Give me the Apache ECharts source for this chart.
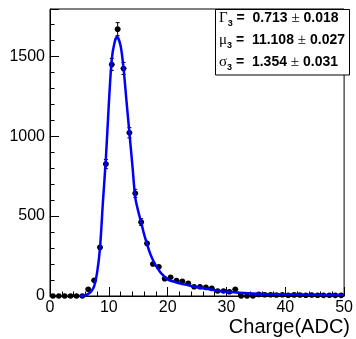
<!DOCTYPE html>
<html>
<head>
<meta charset="utf-8">
<script src="https://cdn.jsdelivr.net/npm/echarts@6/dist/echarts.min.js"></script>
<style>
html,body{margin:0;padding:0;background:#fff;}
#c{width:356px;height:339px;}
</style>
</head>
<body>
<div id="c"></div>
<script>
// Histogram bin centres and counts (bin width 1)
const binCenters = [0.5,1.5,2.5,3.5,4.5,5.5,6.5,7.5,8.5,9.5,10.5,11.5,12.5,13.5,14.5,15.5,16.5,17.5,18.5,19.5,20.5,21.5,22.5,23.5,24.5,25.5,26.5,27.5,28.5,29.5,30.5,31.5,32.5,33.5,34.5,35.5,36.5,37.5,38.5,39.5,40.5,41.5,42.5,43.5,44.5,45.5,46.5,47.5,48.5,49.5];
const counts = [0,0,0,0,0,0,42,98,304,825,1448,1669,1423,1021,642,462,329,200,183,108,117,97,92,79,58,58,54,48,31,31,27,42,0,0,0,10,8,8,6,8,5,7,6,5,6,5,4,5,4,4];
// Fitted curve
const fitX = [5,5.5,6,6.5,7,7.5,8,8.5,9,9.5,10,10.5,11,11.4,12,12.5,13,13.5,14,14.5,15,15.5,16,16.5,17,17.5,18,18.5,19,20,21,22,23,24,25,26,28,30,33,36,40,45,50];
const fitY = [0,1,4,13,28,60,145,300,590,860,1200,1480,1590,1621,1565,1425,1220,1020,820,615,530,460,385,325,268,225,190,162,138,104,90,80,71,63,55,48,36,26,18,13,10,7.5,6];
// Axis ticks
const xTicks = [0,10,20,30,40,50];
const yTicks = [0,500,1000,1500];
// Stats box
const statNames = ['Γ','μ','σ'];
const statValues = ['0.713','11.108','1.354'];
const statErrors = ['0.018','0.027','0.031'];

const histData = binCenters.map((x,i)=>[x, counts[i], Math.sqrt(counts[i])]);
const fitData = fitX.map((x,i)=>[x, fitY[i]]);

const chart = echarts.init(document.getElementById('c'), null, {renderer:'canvas'});
const statTexts = statNames.map((n,i)=>({
  type:'text', left: 219, top: 11 + i*22,
  style:{
    text: '{g|'+n+'}{s|3}{b| =  '+statValues[i]+' }{p|±}{b| '+statErrors[i]+'}',
    rich:{
      g:{fontFamily:'Liberation Serif', fontSize:15, lineHeight:19, verticalAlign:'middle', fill:'#000'},
      s:{fontFamily:'Liberation Sans', fontWeight:'bold', fontSize:9, lineHeight:9, verticalAlign:'bottom', fill:'#000'},
      b:{fontFamily:'Liberation Sans', fontWeight:'bold', fontSize:14, lineHeight:19, verticalAlign:'middle', fill:'#000'},
      p:{fontFamily:'Liberation Serif', fontSize:15, lineHeight:19, verticalAlign:'middle', fill:'#000'}
    }
  }
}));

chart.setOption({
  animation:false,
  backgroundColor:'#fff',
  grid:{left:50, right:6, top:9, bottom:43, show:true, borderColor:'#000', borderWidth:1, backgroundColor:'#fff'},
  xAxis:{
    type:'value', min:xTicks[0], max:xTicks[xTicks.length-1], interval:10,
    axisLine:{show:true, onZero:false, lineStyle:{color:'#000', width:1}},
    axisTick:{show:true, inside:true, length:9, lineStyle:{color:'#000'}},
    minorTick:{show:true, splitNumber:5, length:4.5, lineStyle:{color:'#000'}},
    splitLine:{show:false},
    axisLabel:{show:true, margin:4, fontSize:16, color:'#000', fontFamily:'Liberation Sans', showMinLabel:true, showMaxLabel:true, hideOverlap:false}
  },
  yAxis:{
    type:'value', min:yTicks[0], max:1795, interval:500,
    axisLine:{show:true, onZero:false, lineStyle:{color:'#000', width:1}},
    axisTick:{show:true, inside:true, length:9, lineStyle:{color:'#000'}},
    minorTick:{show:true, splitNumber:5, length:4.5, lineStyle:{color:'#000'}},
    splitLine:{show:false},
    axisLabel:{show:true, margin:5, fontSize:16, color:'#000', fontFamily:'Liberation Sans', showMinLabel:true, showMaxLabel:false,
      formatter:(v)=> yTicks.indexOf(v)>=0 ? String(v) : ''}
  },
  series:[
    {
      type:'custom', z:2, clip:false,
      data: histData,
      renderItem:(params, api)=>{
        const x = api.value(0), y = api.value(1), e = api.value(2);
        const c = api.coord([x,y]);
        const l = api.coord([x-0.5,y]);
        const r = api.coord([x+0.5,y]);
        const t = api.coord([x,y+e]);
        const b = api.coord([x,Math.max(0,y-e)]);
        const ls = {stroke:'#000', lineWidth:1};
        const ch = [
          {type:'line', shape:{x1:l[0],y1:c[1],x2:r[0],y2:c[1]}, style:ls}
        ];
        if (e > 0) {
          ch.push({type:'line', shape:{x1:c[0],y1:t[1],x2:c[0],y2:b[1]}, style:ls});
          if (t[1] < c[1]-3) {
            ch.push({type:'line', shape:{x1:c[0]-2,y1:t[1],x2:c[0]+2,y2:t[1]}, style:ls});
            ch.push({type:'line', shape:{x1:c[0]-2,y1:b[1],x2:c[0]+2,y2:b[1]}, style:ls});
          }
        }
        ch.push({type:'circle', shape:{cx:c[0], cy:c[1], r:2.8}, style:{fill:'#000'}});
        return {type:'group', children:ch};
      }
    },
    {
      type:'line', z:3, data: fitData, smooth:0.3, showSymbol:false, symbol:'none',
      lineStyle:{color:'#0000ff', width:2.5}, clip:true
    }
  ],
  graphic:[
    {type:'rect', z:100, shape:{x:215.5, y:9.5, width:134, height:65.5}, style:{fill:'#fff', stroke:'#000', lineWidth:1}},
    ...statTexts.map(t=>Object.assign({z:101}, t)),
    {type:'text', z:100, right:6, top:317, style:{text:'Charge(ADC)', fontFamily:'Liberation Sans', fontSize:20, fill:'#000'}}
  ]
});
</script>
</body>
</html>
